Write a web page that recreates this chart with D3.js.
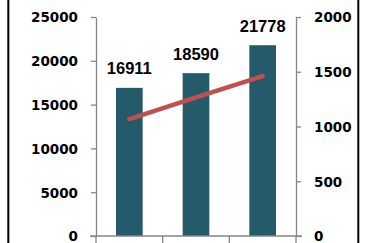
<!DOCTYPE html>
<html>
<head>
<meta charset="utf-8">
<script src="https://cdn.jsdelivr.net/npm/d3@7"></script>
<style>
  html, body { margin: 0; padding: 0; background: #fff; }
  svg { display: block; }
</style>
</head>
<body>
<svg id="chart" width="365" height="243"></svg>
<script>
const categories = ["2012", "2013", "2014"];
const barValues = [16911, 18590, 21778];
const lineValues = [1068, 1265, 1460];
const leftTicks = [0, 5000, 10000, 15000, 20000, 25000];
const rightTicks = [0, 500, 1000, 1500, 2000];

const svg = d3.select("#chart");
const W = 365, H = 243;
const plot = { left: 96, right: 296, top: 17, bottom: 236 };

const x = d3.scaleBand().domain(categories).range([plot.left, plot.right])
  .paddingInner(0.6).paddingOuter(0.3);
const yL = d3.scaleLinear().domain([0, 25000]).range([plot.bottom, plot.top]);
const yR = d3.scaleLinear().domain([0, 2000]).range([plot.bottom, plot.top]);

const axisColor = "#868686";

// frame lines
svg.append("line").attr("x1", 8.3).attr("x2", 8.3).attr("y1", 0).attr("y2", H)
  .attr("stroke", "#000").attr("stroke-width", 2);
svg.append("line").attr("x1", 358.3).attr("x2", 358.3).attr("y1", 0).attr("y2", H)
  .attr("stroke", "#000").attr("stroke-width", 2);

// bars
svg.append("g").selectAll("rect").data(barValues).join("rect")
  .attr("x", (d, i) => x(categories[i]))
  .attr("width", x.bandwidth())
  .attr("y", d => yL(d))
  .attr("height", d => yL(0) - yL(d))
  .attr("fill", "#245A69");

// left axis
const gL = svg.append("g").attr("transform", `translate(${plot.left},0)`)
  .call(d3.axisLeft(yL).tickValues(leftTicks).tickFormat(d3.format("d"))
    .tickSize(5).tickSizeOuter(0).tickPadding(13));
// right axis
const gR = svg.append("g").attr("transform", `translate(${plot.right},0)`)
  .call(d3.axisRight(yR).tickValues(rightTicks).tickFormat(d3.format("d"))
    .tickSize(5).tickSizeOuter(0).tickPadding(13));

[gL, gR].forEach(g => {
  g.select(".domain").attr("stroke", axisColor).attr("stroke-width", 1.3);
  g.selectAll(".tick line").attr("stroke", axisColor).attr("stroke-width", 1.3);
  g.selectAll(".tick text")
    .attr("font-family", "'DejaVu Sans', sans-serif")
    .attr("font-weight", "bold")
    .attr("font-size", "13.5px")
    .attr("fill", "#000")
    .attr("dy", "0.36em");
});

// x axis baseline and category boundary ticks
svg.append("line").attr("x1", plot.left - 6).attr("x2", plot.right + 6)
  .attr("y1", plot.bottom).attr("y2", plot.bottom)
  .attr("stroke", axisColor).attr("stroke-width", 1.3);
const step = x.step();
const boundaries = categories.map((c, i) => plot.left + i * step).concat([plot.right]);
svg.append("g").selectAll("line").data(boundaries).join("line")
  .attr("x1", d => d).attr("x2", d => d)
  .attr("y1", plot.bottom).attr("y2", H)
  .attr("stroke", axisColor).attr("stroke-width", 1.3);

// line series
const line = d3.line()
  .x((d, i) => x(categories[i]) + x.bandwidth() / 2)
  .y(d => yR(d));
svg.append("path").datum(lineValues)
  .attr("d", line)
  .attr("fill", "none")
  .attr("stroke", "#C0504D")
  .attr("stroke-width", 4.5)
  .attr("stroke-linecap", "round");

// data labels
svg.append("g").selectAll("text").data(barValues).join("text")
  .attr("x", (d, i) => x(categories[i]) + x.bandwidth() / 2)
  .attr("y", d => yL(d) - 13.5)
  .attr("text-anchor", "middle")
  .attr("font-family", "'Liberation Sans', Arial, sans-serif")
  .attr("font-weight", "bold")
  .attr("font-size", "16.5px")
  .attr("fill", "#000")
  .text(d => d);
</script>
</body>
</html>
